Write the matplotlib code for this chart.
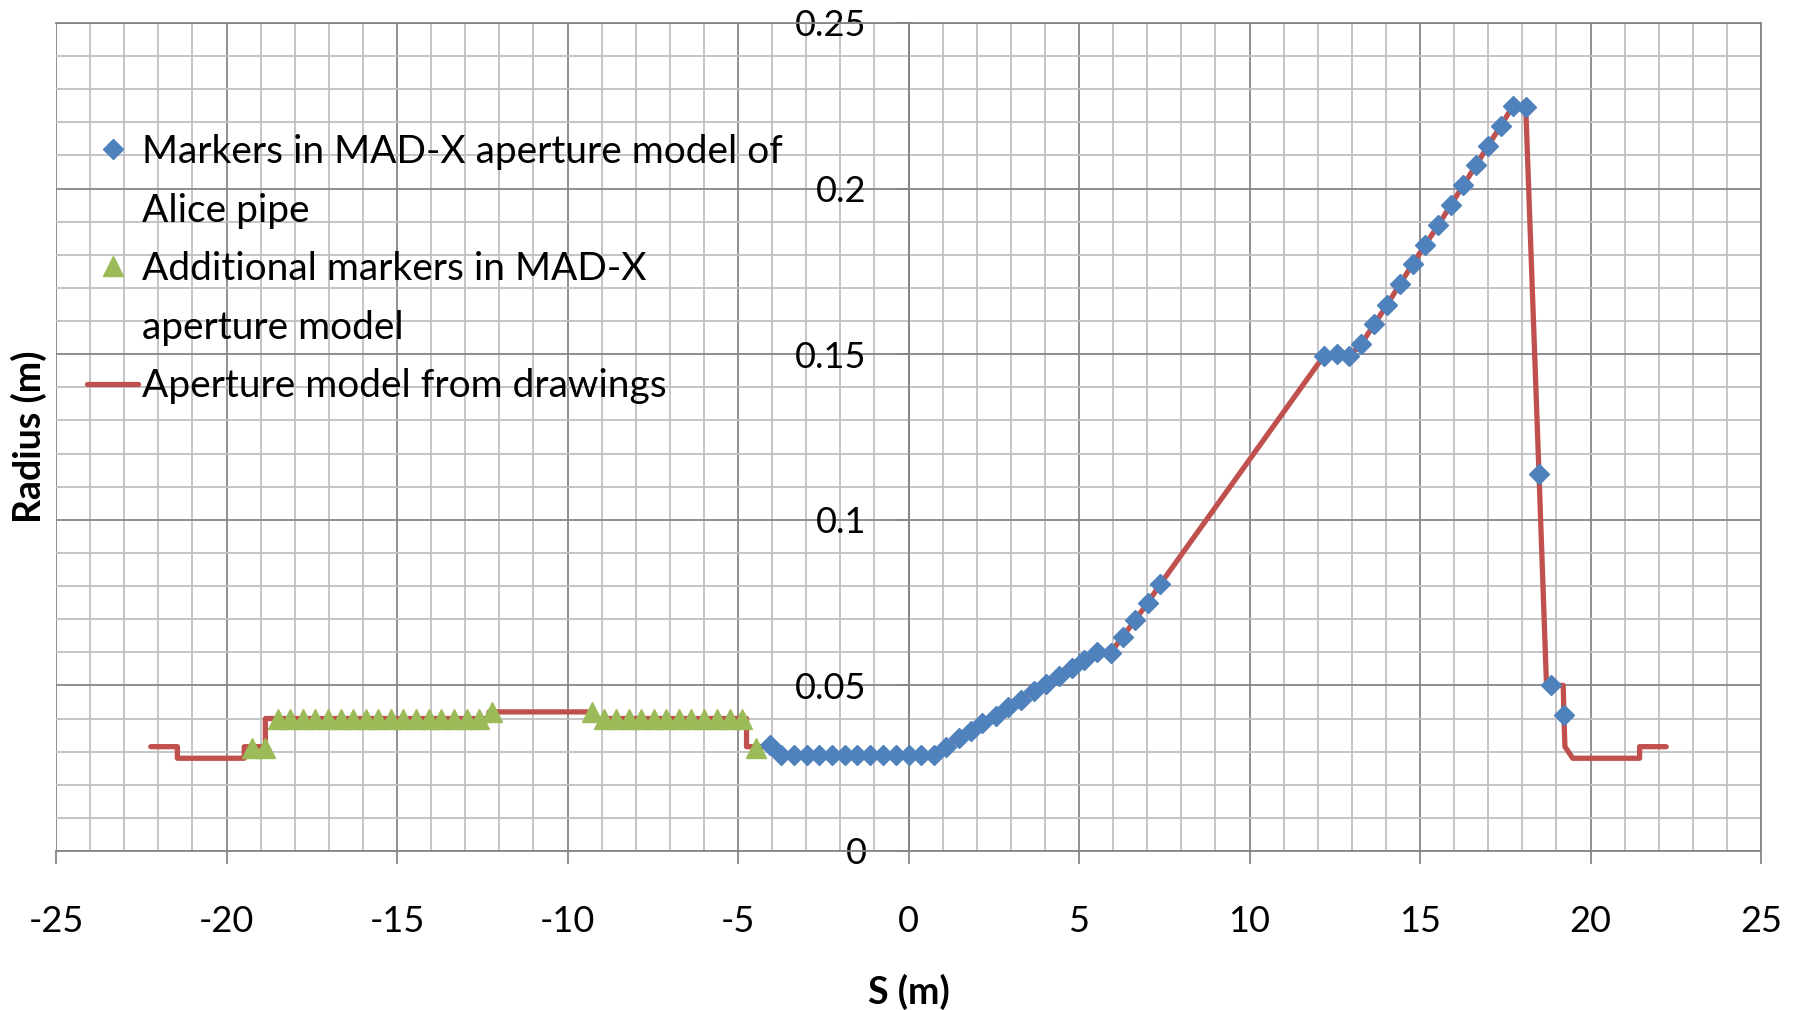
import matplotlib.pyplot as plt
from matplotlib.lines import Line2D
from matplotlib.ticker import MultipleLocator, FuncFormatter

plt.rcParams.update({
    'font.family': ['Lato', 'DejaVu Sans'],
    'font.size': 26,
    'axes.unicode_minus': False,
})
BLUE, GREEN, RED = '#4F81BD', '#9BBB59', '#C0504D'
GRID_MAJ, GRID_MIN = '#868686', '#C0C0C0'

# Markers in MAD-X aperture model of Alice pipe
alice_s = [-4.07, -3.75, -3.37, -2.99, -2.62, -2.25, -1.87, -1.50, -1.12, -0.75, -0.38, 0.00, 0.37, 0.74,
           1.10, 1.47, 1.82, 2.17, 2.56, 2.93, 3.29, 3.68, 4.04, 4.41, 4.79, 5.16, 5.54, 5.93, 6.28, 6.65,
           7.02, 7.38, 12.18, 12.56, 12.93, 13.27, 13.66, 14.04, 14.42, 14.79, 15.15, 15.54, 15.90, 16.27,
           16.64, 17.00, 17.37, 17.73, 18.10, 18.49, 18.85, 19.22]
alice_r = [0.032, 0.029, 0.029, 0.029, 0.029, 0.029, 0.029, 0.029, 0.029, 0.029, 0.029, 0.029, 0.029, 0.029,
           0.0315, 0.034, 0.0362, 0.0387, 0.0407, 0.0434, 0.0457, 0.0482, 0.0504, 0.0529, 0.0553, 0.0578,
           0.0602, 0.0599, 0.0647, 0.0698, 0.075, 0.0805, 0.1495, 0.150, 0.1495, 0.153, 0.159, 0.165,
           0.1713, 0.1773, 0.183, 0.189, 0.195, 0.201, 0.207, 0.213, 0.219, 0.225, 0.2247, 0.1138, 0.050, 0.0411]

# Additional markers in MAD-X aperture model
extra_s = [-19.25, -18.86, -18.49, -18.13, -17.76, -17.40, -17.03, -16.65, -16.28, -15.92, -15.55, -15.18,
           -14.82, -14.44, -14.07, -13.70, -13.33, -12.96, -12.59, -12.21, -9.27, -8.94, -8.57, -8.21,
           -7.84, -7.47, -7.11, -6.74, -6.37, -5.99, -5.61, -5.24, -4.88, -4.46]
extra_r = [0.031, 0.031, 0.040, 0.040, 0.040, 0.040, 0.040, 0.040, 0.040, 0.040, 0.040, 0.040,
           0.040, 0.040, 0.040, 0.040, 0.040, 0.040, 0.040, 0.042, 0.042, 0.040, 0.040, 0.040,
           0.040, 0.040, 0.040, 0.040, 0.040, 0.040, 0.040, 0.040, 0.040, 0.031]

# Aperture model from drawings: outer parts; the middle follows the Alice markers
draw_left_s = [-22.22, -21.44, -21.44, -19.48, -19.48, -18.86, -18.86, -12.30, -12.30, -9.30, -9.30,
               -4.75, -4.75, -4.07]
draw_left_r = [0.0315, 0.0315, 0.028, 0.028, 0.0315, 0.0315, 0.040, 0.040, 0.042, 0.042, 0.040,
               0.040, 0.0315, 0.0315]
draw_right_s = [18.71, 19.20, 19.22, 19.25, 19.48, 21.44, 21.44, 22.22]
draw_right_r = [0.050, 0.050, 0.0411, 0.0315, 0.028, 0.028, 0.0315, 0.0315]

draw_s = draw_left_s + alice_s[1:50] + draw_right_s
draw_r = draw_left_r + alice_r[1:50] + draw_right_r

fig = plt.figure(figsize=(18, 10.1), dpi=100)
ax = fig.add_axes([56/1800, 1-851/1010, (1761-56)/1800, (851-23)/1010])

h_red, = ax.plot(draw_s, draw_r, color=RED, lw=3.8, solid_joinstyle='round', solid_capstyle='round', zorder=3)
h_blue, = ax.plot(alice_s, alice_r, ls='none', marker='D', ms=10.5, color=BLUE, mec=BLUE, zorder=4)
h_green, = ax.plot(extra_s, extra_r, ls='none', marker='^', ms=14, color=GREEN, mec=GREEN, zorder=4)

ax.set_xlim(-25, 25); ax.set_ylim(0, 0.25)
ax.xaxis.set_major_locator(MultipleLocator(5)); ax.xaxis.set_minor_locator(MultipleLocator(1))
ax.yaxis.set_major_locator(MultipleLocator(0.05)); ax.yaxis.set_minor_locator(MultipleLocator(0.01))
fmt = FuncFormatter(lambda v, _: f'{v:g}')
ax.xaxis.set_major_formatter(fmt); ax.yaxis.set_major_formatter(fmt)
ax.set_axisbelow(True)
ax.grid(which='minor', color=GRID_MIN, lw=1.3)
ax.grid(which='major', color=GRID_MAJ, lw=1.3)

for sp in ax.spines.values(): sp.set_color(GRID_MAJ); sp.set_linewidth(1.3)
ax.spines['left'].set_position(('data', 0))
ax.tick_params(which='major', direction='out', length=9, width=1.3, color=GRID_MAJ, labelsize=26)
ax.tick_params(axis='x', pad=30); ax.tick_params(axis='y', pad=21)
ax.tick_params(which='minor', length=0)

ax.set_xlabel('S (m)', fontweight='bold', fontsize=27)
ax.xaxis.set_label_coords(0.5, -0.148)
ax.set_ylabel('Radius (m)', fontweight='bold', fontsize=27)
ax.yaxis.set_label_coords(-0.005, 0.5)

blank = Line2D([], [], ls='none')
ax.legend([h_blue, blank, h_green, blank, h_red],
          ['Markers in MAD-X aperture model of', 'Alice pipe', 'Additional markers in MAD-X',
           'aperture model', 'Aperture model from drawings'],
          loc='upper left', bbox_to_anchor=(0.018, 0.866), frameon=False, borderpad=0, borderaxespad=0,
          handlelength=1.33, handletextpad=0.1, labelspacing=0.58, fontsize=28)

fig.savefig('out.png', dpi=100)
